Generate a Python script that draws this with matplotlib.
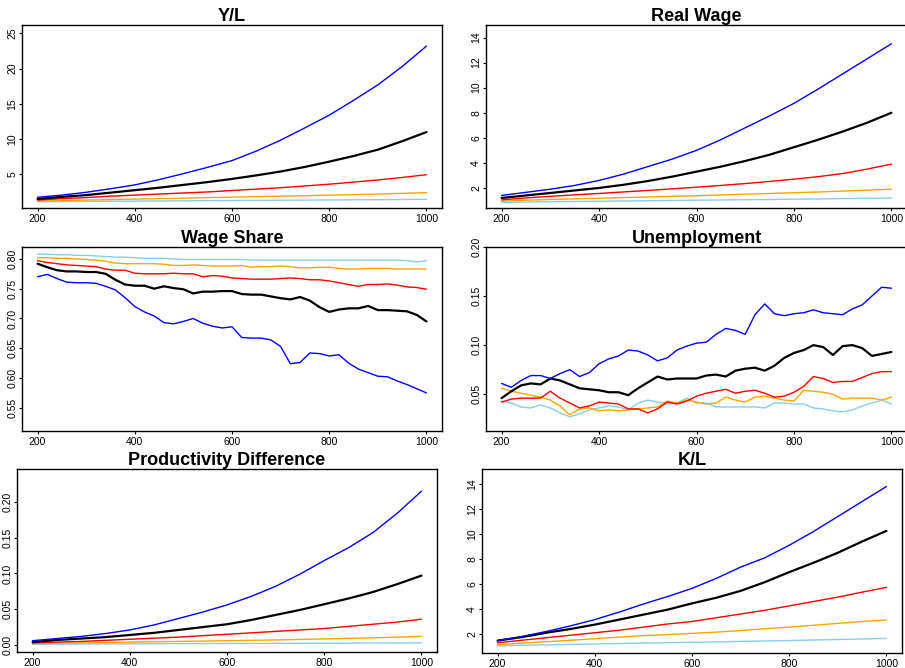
"""
Painel 3x2 com as trajetórias médias das simulações (Y/L, salário real,
participação salarial, desemprego, diferença de produtividade e K/L).
Saída: out.png
"""
from __future__ import annotations

import matplotlib.pyplot as plt

# Eixo do tempo: séries suaves a cada 50 passos, séries ruidosas a cada 20
T_SMOOTH = list(range(200, 1001, 50))
T_FINE = list(range(200, 1001, 20))

COLORS = {"skyblue": "#87CEEB", "orange": "#FFA500", "red": "#FF0000",
          "black": "#000000", "blue": "#0000FF"}

# Y/L
YL_BLUE = [1.74, 2.05, 2.45, 2.95, 3.5, 4.25, 5.1, 6.0, 6.95, 8.3, 9.85, 11.6, 13.4, 15.5, 17.7, 20.3, 23.2]
YL_BLACK = [1.5, 1.8, 2.05, 2.4, 2.75, 3.1, 3.5, 3.9, 4.35, 4.85, 5.4, 6.05, 6.8, 7.6, 8.5, 9.7, 11.0]
YL_RED = [1.35, 1.55, 1.7, 1.9, 2.05, 2.2, 2.35, 2.5, 2.7, 2.9, 3.1, 3.35, 3.6, 3.9, 4.2, 4.55, 4.95]
YL_ORANGE = [1.2, 1.27, 1.34, 1.41, 1.48, 1.55, 1.62, 1.69, 1.76, 1.83, 1.9, 1.97, 2.04, 2.12, 2.2, 2.3, 2.4]
YL_SKY = [1.1, 1.13, 1.15, 1.18, 1.2, 1.22, 1.24, 1.26, 1.28, 1.3, 1.32, 1.34, 1.36, 1.38, 1.4, 1.43, 1.45]

# Real Wage
RW_BLUE = [1.4, 1.65, 1.9, 2.2, 2.6, 3.1, 3.7, 4.3, 5.0, 5.85, 6.8, 7.75, 8.75, 9.9, 11.1, 12.3, 13.5]
RW_BLACK = [1.2, 1.4, 1.6, 1.8, 2.0, 2.25, 2.55, 2.9, 3.3, 3.7, 4.15, 4.65, 5.25, 5.85, 6.5, 7.2, 8.0]
RW_RED = [1.05, 1.2, 1.33, 1.45, 1.56, 1.68, 1.8, 1.93, 2.06, 2.2, 2.35, 2.52, 2.7, 2.9, 3.15, 3.5, 3.9]
RW_ORANGE = [0.95, 1.02, 1.08, 1.13, 1.18, 1.23, 1.28, 1.33, 1.38, 1.44, 1.5, 1.56, 1.62, 1.68, 1.75, 1.82, 1.9]
RW_SKY = [0.85, 0.88, 0.9, 0.92, 0.94, 0.96, 0.98, 1.0, 1.02, 1.04, 1.06, 1.08, 1.1, 1.12, 1.15, 1.17, 1.2]

# Wage Share
WS_BLUE = [0.770, 0.774, 0.767, 0.761, 0.760, 0.760, 0.759, 0.754, 0.748, 0.735,
           0.720, 0.711, 0.704, 0.693, 0.691, 0.695, 0.700, 0.692, 0.687, 0.684,
           0.686, 0.668, 0.667, 0.667, 0.664, 0.653, 0.624, 0.626, 0.642, 0.641,
           0.637, 0.639, 0.625, 0.615, 0.609, 0.603, 0.602, 0.595, 0.589, 0.582, 0.575]
WS_BLACK = [0.792, 0.786, 0.781, 0.779, 0.779, 0.778, 0.778, 0.775, 0.765, 0.757,
            0.755, 0.755, 0.750, 0.754, 0.751, 0.749, 0.742, 0.745, 0.745, 0.746,
            0.746, 0.741, 0.740, 0.740, 0.737, 0.734, 0.732, 0.736, 0.730, 0.719,
            0.711, 0.715, 0.717, 0.717, 0.721, 0.714, 0.714, 0.713, 0.712, 0.706, 0.695]
WS_RED = [0.797, 0.794, 0.792, 0.790, 0.789, 0.788, 0.787, 0.783, 0.781, 0.781,
          0.776, 0.775, 0.775, 0.775, 0.776, 0.775, 0.775, 0.770, 0.772, 0.771,
          0.768, 0.767, 0.766, 0.766, 0.766, 0.767, 0.768, 0.767, 0.765, 0.765,
          0.763, 0.760, 0.757, 0.754, 0.757, 0.757, 0.758, 0.756, 0.753, 0.752, 0.749]
WS_ORANGE = [0.802, 0.802, 0.801, 0.801, 0.800, 0.799, 0.798, 0.796, 0.793, 0.792,
             0.792, 0.792, 0.792, 0.791, 0.789, 0.789, 0.790, 0.789, 0.788, 0.788,
             0.788, 0.789, 0.786, 0.787, 0.787, 0.788, 0.787, 0.785, 0.785, 0.786,
             0.786, 0.784, 0.783, 0.783, 0.784, 0.784, 0.784, 0.783, 0.783, 0.783, 0.783]
WS_SKY = [0.808, 0.808, 0.807, 0.807, 0.806, 0.806, 0.805, 0.804, 0.803, 0.803,
          0.802, 0.801, 0.801, 0.801, 0.800, 0.799, 0.799, 0.799, 0.799, 0.799,
          0.799, 0.799, 0.798, 0.798, 0.798, 0.798, 0.798, 0.798, 0.798, 0.798,
          0.798, 0.798, 0.798, 0.798, 0.798, 0.798, 0.798, 0.798, 0.797, 0.795, 0.797]

# Unemployment
UN_BLUE = [0.061, 0.057, 0.064, 0.069, 0.069, 0.066, 0.071, 0.075, 0.068, 0.072,
           0.081, 0.086, 0.089, 0.095, 0.094, 0.090, 0.084, 0.087, 0.095, 0.099,
           0.102, 0.103, 0.111, 0.117, 0.115, 0.111, 0.131, 0.142, 0.132, 0.130,
           0.132, 0.133, 0.136, 0.133, 0.132, 0.131, 0.137, 0.141, 0.150, 0.159, 0.158]
UN_BLACK = [0.046, 0.053, 0.059, 0.061, 0.060, 0.066, 0.064, 0.060, 0.056, 0.055,
            0.054, 0.052, 0.052, 0.049, 0.056, 0.062, 0.068, 0.065, 0.066, 0.066,
            0.066, 0.069, 0.070, 0.068, 0.074, 0.076, 0.077, 0.074, 0.079, 0.087,
            0.092, 0.095, 0.100, 0.098, 0.090, 0.099, 0.100, 0.097, 0.089, 0.091, 0.093]
UN_RED = [0.042, 0.045, 0.046, 0.046, 0.046, 0.053, 0.046, 0.041, 0.036, 0.038,
          0.042, 0.041, 0.040, 0.035, 0.035, 0.031, 0.035, 0.042, 0.040, 0.043,
          0.048, 0.051, 0.053, 0.055, 0.051, 0.053, 0.054, 0.051, 0.047, 0.048,
          0.052, 0.058, 0.068, 0.066, 0.062, 0.063, 0.063, 0.067, 0.071, 0.073, 0.073]
UN_ORANGE = [0.056, 0.053, 0.051, 0.049, 0.047, 0.044, 0.038, 0.029, 0.035, 0.036,
             0.033, 0.034, 0.033, 0.034, 0.035, 0.036, 0.037, 0.043, 0.041, 0.044,
             0.042, 0.040, 0.041, 0.047, 0.044, 0.042, 0.047, 0.048, 0.046, 0.044,
             0.043, 0.054, 0.053, 0.052, 0.050, 0.045, 0.046, 0.046, 0.046, 0.044, 0.047]
UN_SKY = [0.043, 0.041, 0.037, 0.036, 0.039, 0.036, 0.031, 0.027, 0.030, 0.034,
          0.036, 0.038, 0.037, 0.034, 0.041, 0.044, 0.042, 0.040, 0.041, 0.046,
          0.041, 0.041, 0.037, 0.037, 0.037, 0.037, 0.037, 0.036, 0.041, 0.041,
          0.040, 0.040, 0.036, 0.035, 0.033, 0.032, 0.034, 0.038, 0.041, 0.044, 0.040]

# Productivity Difference
PD_BLUE = [0.006, 0.009, 0.012, 0.016, 0.021, 0.028, 0.037, 0.046, 0.056, 0.068, 0.082, 0.099, 0.118, 0.136, 0.157, 0.184, 0.215]
PD_BLACK = [0.004, 0.007, 0.009, 0.011, 0.014, 0.017, 0.021, 0.025, 0.029, 0.035, 0.042, 0.049, 0.057, 0.065, 0.074, 0.085, 0.097]
PD_RED = [0.003, 0.004, 0.005, 0.0065, 0.008, 0.0095, 0.011, 0.013, 0.015, 0.017, 0.019, 0.021, 0.023, 0.026, 0.029, 0.032, 0.036]
PD_ORANGE = [0.002, 0.0025, 0.003, 0.0035, 0.004, 0.0045, 0.005, 0.0055, 0.006, 0.0065, 0.007, 0.0078, 0.0085, 0.0093, 0.010, 0.011, 0.012]
PD_SKY = [0.001, 0.0012, 0.0013, 0.0015, 0.0016, 0.0018, 0.0019, 0.002, 0.0021, 0.0022, 0.0023, 0.0024, 0.0025, 0.0026, 0.0027, 0.0028, 0.003]

# K/L
KL_BLUE = [1.47, 1.8, 2.2, 2.65, 3.15, 3.75, 4.4, 5.0, 5.65, 6.45, 7.35, 8.1, 9.1, 10.2, 11.4, 12.6, 13.8]
KL_BLACK = [1.47, 1.75, 2.1, 2.4, 2.75, 3.15, 3.55, 3.95, 4.45, 4.9, 5.45, 6.15, 6.95, 7.7, 8.5, 9.4, 10.25]
KL_RED = [1.3, 1.5, 1.7, 1.9, 2.1, 2.3, 2.55, 2.8, 3.0, 3.3, 3.6, 3.9, 4.25, 4.6, 4.95, 5.35, 5.73]
KL_ORANGE = [1.15, 1.27, 1.38, 1.5, 1.62, 1.75, 1.87, 1.95, 2.05, 2.15, 2.28, 2.42, 2.55, 2.7, 2.85, 3.0, 3.12]
KL_SKY = [1.05, 1.1, 1.13, 1.17, 1.2, 1.24, 1.27, 1.3, 1.34, 1.37, 1.41, 1.44, 1.48, 1.52, 1.56, 1.6, 1.65]

X_TICKS = [200, 400, 600, 800, 1000]

# (título, eixo t, séries em ordem skyblue/orange/red/black/blue, ylim, yticks, formato, caixa em px)
PANELS = [
    ("Y/L", T_SMOOTH, [YL_SKY, YL_ORANGE, YL_RED, YL_BLACK, YL_BLUE],
     (0.22, 26.2), [5, 10, 15, 20, 25], None, (22, 25, 420, 183)),
    ("Real Wage", T_SMOOTH, [RW_SKY, RW_ORANGE, RW_RED, RW_BLACK, RW_BLUE],
     (0.4, 15.0), [2, 4, 6, 8, 10, 12, 14], None, (486, 25, 421, 183)),
    ("Wage Share", T_FINE, [WS_SKY, WS_ORANGE, WS_RED, WS_BLACK, WS_BLUE],
     (0.511, 0.82), [0.55, 0.60, 0.65, 0.70, 0.75, 0.80], "{:.2f}", (22, 247, 420, 184)),
    ("Unemployment", T_FINE, [UN_SKY, UN_ORANGE, UN_RED, UN_BLACK, UN_BLUE],
     (0.0125, 0.2), [0.05, 0.10, 0.15, 0.20], "{:.2f}", (486, 247, 421, 184)),
    ("Productivity Difference", T_SMOOTH, [PD_SKY, PD_ORANGE, PD_RED, PD_BLACK, PD_BLUE],
     (-0.0098, 0.246), [0.00, 0.05, 0.10, 0.15, 0.20], "{:.2f}", (17, 469, 420, 183)),
    ("K/L", T_SMOOTH, [KL_SKY, KL_ORANGE, KL_RED, KL_BLACK, KL_BLUE],
     (0.48, 15.2), [2, 4, 6, 8, 10, 12, 14], None, (482, 469, 420, 184)),
]

LINE_ORDER = ["skyblue", "orange", "red", "black", "blue"]


def main() -> None:
    plt.rcParams["font.family"] = ["Liberation Sans", "DejaVu Sans"]
    W, H = 905, 668
    fig = plt.figure(figsize=(W / 100, H / 100), dpi=100)

    for title, t, series, ylim, yticks, fmt, (left, top, width, height) in PANELS:
        ax = fig.add_axes([left / W, 1 - (top + height) / H, width / W, height / H])
        for name, values in zip(LINE_ORDER, series):
            lw = 1.6 if name == "black" else 1.0
            ax.plot(t, values, color=COLORS[name], lw=lw,
                    solid_joinstyle="round", solid_capstyle="round")

        ax.set_xlim(168, 1032)
        ax.set_ylim(*ylim)
        ax.set_xticks(X_TICKS)
        ax.set_yticks(yticks)
        if fmt:
            ax.set_yticklabels([fmt.format(v) for v in yticks])
        ax.tick_params(axis="both", direction="out", length=2.5, width=0.8,
                       labelsize=7.5, colors="black")
        ax.tick_params(axis="x", pad=2)
        ax.tick_params(axis="y", pad=1)
        for lab in ax.get_yticklabels():
            lab.set_rotation(90)
            lab.set_va("center")
        for sp in ax.spines.values():
            sp.set_linewidth(1.0)
            sp.set_color("black")
        ax.set_title(title, fontsize=13, fontweight="bold", pad=3)

    fig.savefig("out.png", dpi=100)
    plt.close(fig)


if __name__ == "__main__":
    main()
